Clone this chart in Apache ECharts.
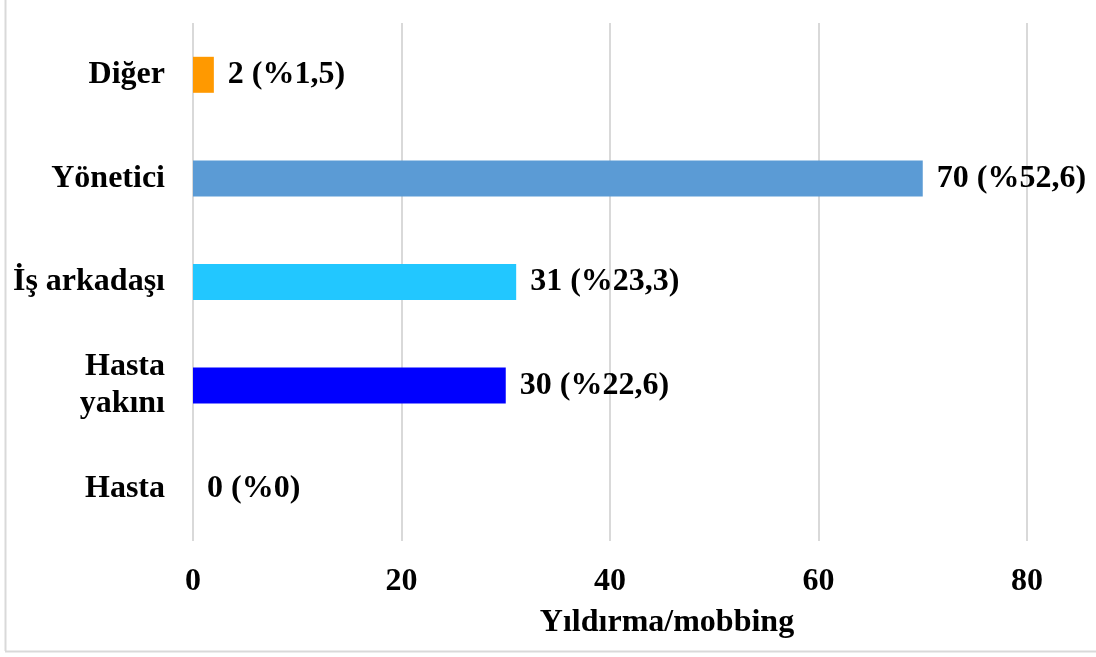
<!DOCTYPE html>
<html>
<head>
<meta charset="utf-8">
<script src="https://cdn.jsdelivr.net/npm/echarts@6/dist/echarts.min.js"></script>
<style>
  html, body { margin: 0; padding: 0; background: #fff; }
  #chart { width: 1096px; height: 657px; }
</style>
</head>
<body>
<div id="chart"></div>
<script>
  // kategoriler (alttan üste)
  var categories = ['Hasta', 'Hasta\nyakını', 'İş arkadaşı', 'Yönetici', 'Diğer'];
  var counts = [0, 30, 31, 70, 2];
  var percents = ['0', '22,6', '23,3', '52,6', '1,5'];
  var barColors = ['#0000FF', '#0000FF', '#22C7FF', '#5B9BD5', '#FF9900'];
  var xTicks = [0, 20, 40, 60, 80];

  var font = '"Liberation Serif", "Times New Roman", serif';

  var chart = echarts.init(document.getElementById('chart'));
  chart.setOption({
    animation: false,
    grid: {left: 193, right: 69, top: 23, bottom: 116},
    xAxis: {
      type: 'value',
      min: xTicks[0],
      max: xTicks[xTicks.length - 1],
      interval: 20,
      name: 'Yıldırma/mobbing',
      nameLocation: 'middle',
      nameGap: 66,
      nameTextStyle: {fontFamily: font, fontWeight: 'bold', fontSize: 32, color: '#000', padding: [0, 0, 0, 114]},
      axisLine: {show: false},
      axisTick: {show: false},
      axisLabel: {fontFamily: font, fontWeight: 'bold', fontSize: 32, color: '#000', margin: 25},
      splitLine: {lineStyle: {color: '#D9D9D9', width: 2}}
    },
    yAxis: {
      type: 'category',
      data: categories,
      axisLine: {show: false},
      axisTick: {show: false},
      axisLabel: {fontFamily: font, fontWeight: 'bold', fontSize: 32, color: '#000', margin: 28, align: 'right', lineHeight: 37}
    },
    series: [{
      type: 'bar',
      barWidth: 36,
      data: counts.map(function (v, i) {
        return {value: v, itemStyle: {color: barColors[i]}};
      }),
      label: {
        show: true,
        position: 'right',
        distance: 14,
        fontFamily: font,
        fontWeight: 'bold',
        fontSize: 32,
        color: '#000',
        formatter: function (p) {
          return counts[p.dataIndex] + ' (%' + percents[p.dataIndex] + ')';
        }
      }
    }],
    graphic: [
      {type: 'line', shape: {x1: 5.5, y1: 0, x2: 5.5, y2: 651}, style: {stroke: '#D9D9D9', lineWidth: 2}},
      {type: 'line', shape: {x1: 5, y1: 651.5, x2: 1096, y2: 651.5}, style: {stroke: '#D9D9D9', lineWidth: 2}}
    ]
  });
</script>
</body>
</html>
